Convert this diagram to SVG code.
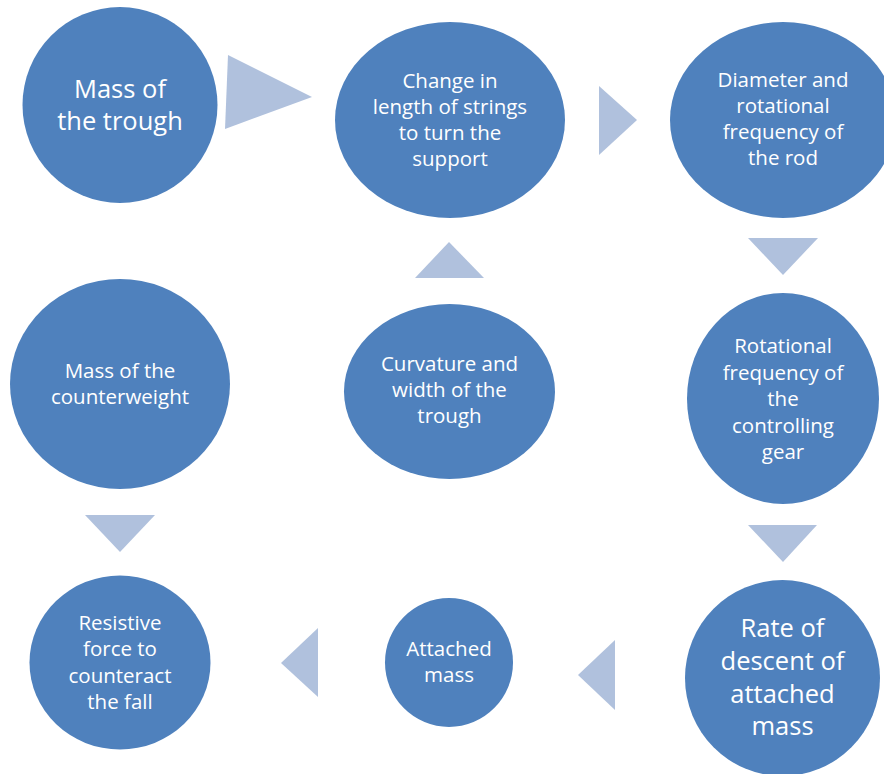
<svg xmlns="http://www.w3.org/2000/svg" width="884" height="774" viewBox="0 0 884 774">
<style>
.node{fill:#4F81BD;}
.arrow{fill:#B0C1DD;}
text{font-family:"Open Sans","Noto Sans","DejaVu Sans",sans-serif;fill:#FFFFFF;text-anchor:middle;}
.m{font-size:20.5px;}
.l{font-size:25.5px;}
</style>
<rect width="884" height="774" fill="#FFFFFF"/>
<g id="connectors">
<polygon class="arrow" points="228,55 225,129 312,97"/>
<polygon class="arrow" points="599,86 599,155 637,120"/>
<polygon class="arrow" points="748,238 818,238 783,275"/>
<polygon class="arrow" points="748,525 817,525 783,562"/>
<polygon class="arrow" points="615,640 615,710 578,675"/>
<polygon class="arrow" points="318,628 318,697 281,663"/>
<polygon class="arrow" points="85,515 155,515 120,552"/>
<polygon class="arrow" points="415,278 484,278 449,242"/>
</g>
<g id="node-mass-trough">
<ellipse class="node" cx="120" cy="105" rx="97.5" ry="98"/>
<text class="l" x="120" y="98">Mass of</text>
<text class="l" x="120" y="130">the trough</text>
</g>
<g id="node-change-length">
<ellipse class="node" cx="450" cy="120" rx="115" ry="98"/>
<text class="m" x="450" y="88">Change in</text>
<text class="m" x="450" y="114">length of strings</text>
<text class="m" x="450" y="140">to turn the</text>
<text class="m" x="450" y="166">support</text>
</g>
<g id="node-diameter">
<ellipse class="node" cx="783" cy="120" rx="113" ry="98"/>
<text class="m" x="783" y="87">Diameter and</text>
<text class="m" x="783" y="113">rotational</text>
<text class="m" x="783" y="139">frequency of</text>
<text class="m" x="783" y="165">the rod</text>
</g>
<g id="node-rotational-gear">
<ellipse class="node" cx="783" cy="398.5" rx="96" ry="105.5"/>
<text class="m" x="783" y="353">Rotational</text>
<text class="m" x="783" y="380">frequency of</text>
<text class="m" x="783" y="406">the</text>
<text class="m" x="783" y="433">controlling</text>
<text class="m" x="783" y="459">gear</text>
</g>
<g id="node-rate-descent">
<ellipse class="node" cx="782.5" cy="678" rx="97.5" ry="98"/>
<text class="l" x="782.5" y="637">Rate of</text>
<text class="l" x="782.5" y="670">descent of</text>
<text class="l" x="782.5" y="703">attached</text>
<text class="l" x="782.5" y="735">mass</text>
</g>
<g id="node-attached-mass">
<ellipse class="node" cx="449" cy="662.5" rx="64" ry="64.5"/>
<text class="m" x="449" y="656">Attached</text>
<text class="m" x="449" y="682">mass</text>
</g>
<g id="node-resistive-force">
<ellipse class="node" cx="120" cy="662.5" rx="90.5" ry="87"/>
<text class="m" x="120" y="630">Resistive</text>
<text class="m" x="120" y="656">force to</text>
<text class="m" x="120" y="683">counteract</text>
<text class="m" x="120" y="709">the fall</text>
</g>
<g id="node-counterweight">
<ellipse class="node" cx="120" cy="384" rx="110" ry="105"/>
<text class="m" x="120" y="378">Mass of the</text>
<text class="m" x="120" y="404">counterweight</text>
</g>
<g id="node-curvature">
<ellipse class="node" cx="449.5" cy="391.5" rx="105.5" ry="87.5"/>
<text class="m" x="449.5" y="371">Curvature and</text>
<text class="m" x="449.5" y="397">width of the</text>
<text class="m" x="449.5" y="423">trough</text>
</g>
</svg>
